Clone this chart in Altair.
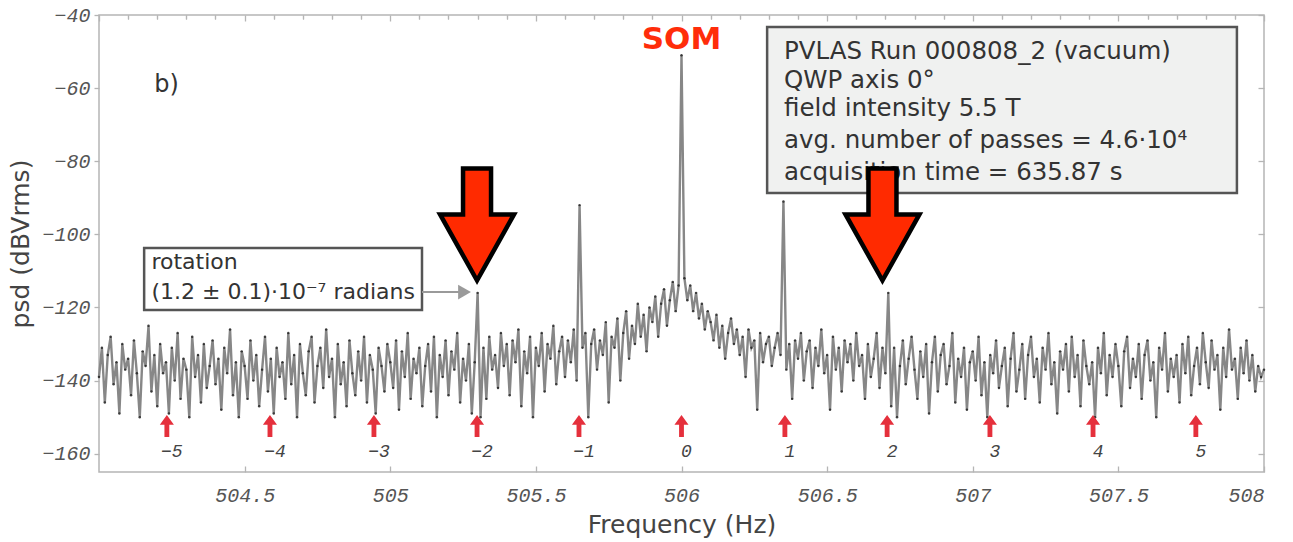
import altair as alt
import pandas as pd

# ---------------- data ----------------
F_START = 504.0          # first sample frequency (Hz)
F_STEP = 0.01

psd_rows = [
    [-139, -131, -146, -133, -128, -141, -135, -149, -130, -137],  # 504.0
    [-134, -144, -129, -138, -150, -132, -136, -125, -143, -133],  # 504.1
    [-147, -130, -138, -135, -149, -131, -140, -127, -145, -134],  # 504.2
    [-137, -150, -128, -139, -133, -146, -130, -142, -136, -129],  # 504.3
    [-141, -134, -148, -131, -138, -126, -144, -135, -150, -132],  # 504.4
    [-136, -145, -129, -140, -133, -147, -137, -128, -143, -134],  # 504.5
    [-149, -131, -139, -135, -145, -127, -141, -133, -150, -130],  # 504.6
    [-138, -144, -132, -128, -146, -136, -131, -142, -126, -139],  # 504.7
    [-134, -150, -130, -141, -135, -147, -129, -138, -144, -132],  # 504.8
    [-140, -128, -146, -133, -137, -149, -131, -136, -143, -130],  # 504.9
    [-135, -142, -129, -148, -132, -139, -127, -145, -134, -138],  # 505.0
    [-131, -147, -136, -130, -143, -128, -150, -133, -139, -129],  # 505.1
    [-144, -132, -137, -127, -146, -134, -140, -130, -149, -135],  # 505.2
    [-116, -150, -131, -145, -128, -137, -133, -142, -127, -136],  # 505.3
    [-130, -144, -129, -135, -126, -147, -132, -138, -128, -150],  # 505.4
    [-131, -136, -127, -143, -130, -134, -125, -141, -132, -128],  # 505.5
    [-139, -129, -135, -126, -140, -92, -131, -127, -150, -130],   # 505.6
    [-126, -137, -129, -133, -124, -146, -128, -131, -123, -140],  # 505.7
    [-127, -121, -134, -125, -130, -119, -128, -122, -132, -120],  # 505.8
    [-124, -117, -128, -119, -115, -125, -118, -113, -121, -114],  # 505.9
    [-51, -112, -118, -114, -121, -116, -123, -119, -126, -121],   # 506.0
    [-124, -129, -122, -131, -125, -134, -127, -123, -130, -126],  # 506.1
    [-133, -128, -139, -126, -131, -129, -148, -127, -135, -130],  # 506.2
    [-128, -136, -131, -127, -133, -91, -137, -130, -145, -129],   # 506.3
    [-134, -127, -140, -132, -129, -142, -131, -136, -126, -138],  # 506.4
    [-133, -148, -128, -137, -131, -143, -129, -135, -130, -140],  # 506.5
    [-127, -136, -133, -145, -130, -139, -134, -127, -142, -131],  # 506.6
    [-138, -116, -147, -131, -150, -136, -129, -141, -134, -128],  # 506.7
    [-137, -145, -132, -139, -130, -149, -135, -128, -143, -133],  # 506.8
    [-130, -141, -136, -127, -146, -134, -139, -131, -148, -135],  # 506.9
    [-132, -140, -128, -144, -135, -150, -133, -138, -129, -142],  # 507.0
    [-136, -131, -147, -134, -127, -143, -137, -130, -145, -133],  # 507.1
    [-128, -139, -134, -146, -131, -137, -127, -141, -135, -149],  # 507.2
    [-132, -137, -130, -143, -128, -139, -133, -147, -129, -136],  # 507.3
    [-141, -135, -150, -131, -138, -127, -144, -133, -139, -130],  # 507.4
    [-136, -147, -132, -128, -142, -134, -139, -130, -145, -133],  # 507.5
    [-129, -140, -135, -150, -131, -137, -127, -143, -134, -139],  # 507.6
    [-133, -146, -130, -138, -128, -144, -136, -131, -141, -127],  # 507.7
    [-135, -142, -129, -137, -133, -148, -131, -139, -126, -137],  # 507.8
    [-134, -145, -131, -138, -129, -140, -133, -143, -136, -139],  # 507.9
    [-137],                                                        # 508.0
]

x_ticks = [504.5, 505, 505.5, 506, 506.5, 507, 507.5, 508]
x_frame_ticks = [504, 504.5, 505, 505.5, 506, 506.5, 507, 507.5, 508]
x_minor_ticks = [504.1, 504.2, 504.3, 504.4, 504.6, 504.7, 504.8, 504.9,
                 505.1, 505.2, 505.3, 505.4, 505.6, 505.7, 505.8, 505.9,
                 506.1, 506.2, 506.3, 506.4, 506.6, 506.7, 506.8, 506.9,
                 507.1, 507.2, 507.3, 507.4, 507.6, 507.7, 507.8, 507.9]
y_ticks = [-160, -140, -120, -100, -80, -60, -40]

# sideband markers (order n and their frequencies)
side_n = ["\u22125", "\u22124", "\u22123", "\u22122", "\u22121", "0", "1", "2", "3", "4", "5"]
side_f = [504.233, 504.587, 504.944, 505.298, 505.648, 506.0,
          506.355, 506.706, 507.059, 507.413, 507.766]
side_arrow_y = [-152.4] * 11
side_label_y = [-159.6] * 11

# big highlight arrows
big_f = [505.298, 506.69]
big_y = [-97.3, -97.3]

# annotation boxes and texts
info_lines = [
    "PVLAS Run 000808_2 (vacuum)",
    "QWP axis 0\u00b0",
    "field intensity 5.5 T",
    "avg. number of passes = 4.6\u00b710\u2074",
    "acquisition time = 635.87 s",
]
info_y = [-50.2, -58.1, -65.6, -74.6, -83.2]
info_x = [506.352] * 5
info_box = {"x": 506.294, "x2": 507.907, "y": -43.3, "y2": -88.7}

rot_lines = ["rotation", "(1.2 \u00b1 0.1)\u00b710\u207b\u2077 radians"]
rot_y = [-107.6, -115.9]
rot_x = [504.18, 504.18]
rot_box = {"x": 504.155, "x2": 505.109, "y": -103.7, "y2": -120.7}
rot_arrow = {"x": 505.109, "x2": 505.255, "y": -115.8}

# ---------------- build tables ----------------
psd = [v for row in psd_rows for v in row]
freq = [round(F_START + i * F_STEP, 3) for i in range(len(psd))]
spec = pd.DataFrame({"f": freq, "psd": psd})

xs = alt.Scale(domain=[504, 508], nice=False, zero=False)
ys = alt.Scale(domain=[-165, -40], nice=False, zero=False)

LABEL_FONT = "Liberation Mono"
TEXT_FONT = "DejaVu Sans"
FRAME = "#b5b5b5"

x_axis = alt.Axis(values=x_ticks, title="Frequency (Hz)", grid=False, format="~g",
                  labelFont=LABEL_FONT, labelFontStyle="italic", labelFontSize=20,
                  labelColor="#555555", labelPadding=13,
                  tickColor=FRAME, tickSize=6, tickWidth=1.3, domain=False, offset=-6,
                  titleFont=TEXT_FONT, titleFontSize=25, titleFontWeight="normal",
                  titleColor="#444444", titlePadding=7)
y_axis = alt.Axis(values=y_ticks, title="psd (dBVrms)", grid=False,
                  labelFont=LABEL_FONT, labelFontStyle="italic", labelFontSize=20,
                  labelColor="#555555", labelPadding=4,
                  tickColor=FRAME, tickSize=5, tickWidth=1.3, domain=False,
                  titleFont=TEXT_FONT, titleFontSize=25, titleFontWeight="normal",
                  titleColor="#444444", titlePadding=8)
x_minor_axis = alt.Axis(values=x_minor_ticks, labels=False, title=None, grid=False,
                        tickColor=FRAME, tickSize=4, tickWidth=1.2, domain=False, offset=-4)
x_top_axis = alt.Axis(values=x_frame_ticks, orient="top", labels=False, title=None,
                      grid=False, tickColor=FRAME, tickSize=6, tickWidth=1.3,
                      domain=False, offset=-6)
x_top_minor = alt.Axis(values=x_minor_ticks, orient="top", labels=False, title=None,
                       grid=False, tickColor=FRAME, tickSize=4, tickWidth=1.2,
                       domain=False, offset=-4)
y_right_axis = alt.Axis(values=y_ticks, orient="right", labels=False, title=None,
                        grid=False, tickColor=FRAME, tickSize=6, tickWidth=1.3,
                        domain=False, offset=-6)

def X(field, axis=None):
    return alt.X(field, scale=xs, axis=axis)

def Y(field, axis=None):
    return alt.Y(field, scale=ys, axis=axis)

# info box (carries the main axes)
info_box_df = pd.DataFrame([info_box])
info_rect = alt.Chart(info_box_df).mark_rect(
    fill="#f0f1f0", stroke="#555555", strokeWidth=2.5
).encode(x=X("x:Q", x_axis), x2="x2:Q", y=Y("y:Q", y_axis), y2="y2:Q")

rot_box_df = pd.DataFrame([rot_box])
rot_rect = alt.Chart(rot_box_df).mark_rect(
    fill="white", stroke="#555555", strokeWidth=2.5
).encode(x=X("x:Q", x_minor_axis), x2="x2:Q", y=Y("y:Q"), y2="y2:Q")

line = alt.Chart(spec).mark_line(color="#878787", strokeWidth=2.4).encode(
    x=X("f:Q", x_top_axis), y=Y("psd:Q", y_right_axis)
)
dots = alt.Chart(spec).mark_circle(color="#222222", size=6, opacity=0.85).encode(
    x=X("f:Q", x_top_minor), y=Y("psd:Q")
)

rot_arrow_df = pd.DataFrame([rot_arrow])
gray_rule = alt.Chart(rot_arrow_df).mark_rule(color="#9a9a9a", strokeWidth=2).encode(
    x=X("x:Q"), x2="x2:Q", y=Y("y:Q")
)
gray_head = alt.Chart(rot_arrow_df).mark_point(
    shape="triangle-right", filled=True, color="#9a9a9a", size=220, opacity=1
).encode(x=X("x2:Q"), y=Y("y:Q"))

# big red arrows (custom symbol path, unit box -1..1)
BIG_PATH = ("M-0.25,-1 L0.25,-1 L0.25,-0.18 L0.66,-0.18 L0,1 "
            "L-0.66,-0.18 L-0.25,-0.18 Z")
big_df = pd.DataFrame({"f": big_f, "y": big_y})
big_arrows = alt.Chart(big_df).mark_point(
    shape=BIG_PATH, size=12544, filled=True, fill="#ff2a00", fillOpacity=1,
    stroke="black", strokeWidth=4.5, strokeOpacity=1
).encode(x=X("f:Q"), y=Y("y:Q"))

SMALL_PATH = ("M0,-1 L0.64,-0.1 L0.22,-0.1 L0.22,1 L-0.22,1 "
              "L-0.22,-0.1 L-0.64,-0.1 Z")
side_df = pd.DataFrame({"f": side_f, "ya": side_arrow_y, "yl": side_label_y, "n": side_n})
small_arrows = alt.Chart(side_df).mark_point(
    shape=SMALL_PATH, size=484, filled=True, color="#e5303c", opacity=1, strokeWidth=0
).encode(x=X("f:Q"), y=Y("ya:Q"))
small_labels = alt.Chart(side_df).mark_text(
    font=LABEL_FONT, fontStyle="italic", fontSize=18, color="#444444",
    align="center", baseline="middle", dx=5
).encode(x=X("f:Q"), y=Y("yl:Q"), text="n:N")

som = alt.Chart(pd.DataFrame({"f": [506.0], "y": [-46.8], "t": ["SOM"]})).mark_text(
    font="DejaVu Sans", fontWeight="bold", fontSize=31, color="#ff2d0a",
    align="center", baseline="middle"
).encode(x=X("f:Q"), y=Y("y:Q"), text="t:N")

blabel = alt.Chart(pd.DataFrame({"f": [504.19], "y": [-59.2], "t": ["b)"]})).mark_text(
    font=TEXT_FONT, fontSize=24, color="#333333", align="left", baseline="middle"
).encode(x=X("f:Q"), y=Y("y:Q"), text="t:N")

info_df = pd.DataFrame({"f": info_x, "y": info_y, "t": info_lines})
info_text = alt.Chart(info_df).mark_text(
    font=TEXT_FONT, fontSize=24.5, color="#333333", align="left", baseline="middle"
).encode(x=X("f:Q"), y=Y("y:Q"), text="t:N")

rot_df = pd.DataFrame({"f": rot_x, "y": rot_y, "t": rot_lines})
rot_text = alt.Chart(rot_df).mark_text(
    font=TEXT_FONT, fontSize=22, color="#333333", align="left", baseline="middle"
).encode(x=X("f:Q"), y=Y("y:Q"), text="t:N")

chart = alt.layer(
    info_rect, rot_rect, line, dots, gray_rule, gray_head,
    small_arrows, small_labels, som, blabel, info_text, rot_text, big_arrows
).resolve_axis(
    x="independent", y="independent"
).properties(
    width=1165, height=457,
    autosize=alt.AutoSizeParams(type="none"),
    padding={"left": 99, "top": 15, "right": 29, "bottom": 70},
    background="white",
).configure_view(stroke=FRAME, strokeWidth=1.5)

chart.save("out.html", embed_options={"renderer": "svg", "actions": False})
